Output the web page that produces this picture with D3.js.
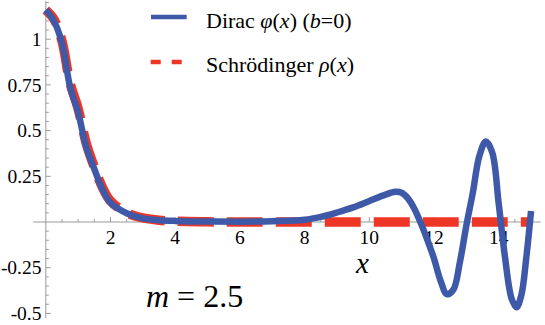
<!DOCTYPE html>
<html>
<head>
<meta charset="utf-8">
<script src="https://cdn.jsdelivr.net/npm/d3@7"></script>
</head>
<body style="margin:0">
<svg id="chart" width="545" height="325"></svg>
<script>
// ---- data ----
const xDirac = [0, 0.25, 0.5, 0.75, 1, 1.25, 1.5, 1.75, 2, 2.5, 3, 3.5, 4, 5, 6, 7, 8, 8.5, 9, 9.5, 10, 10.5, 10.8, 11.0, 11.2, 11.4, 11.6, 11.8, 12.0, 12.2, 12.4, 12.6, 12.8, 13.0, 13.2, 13.4, 13.6, 13.8, 14.0, 14.2, 14.4, 14.55, 14.7, 14.85, 15.0];
const phiDirac = [1.16, 1.10, 0.98, 0.74, 0.60, 0.41, 0.29, 0.18, 0.105, 0.048, 0.02, 0.01, 0.006, 0.003, 0.002, 0.004, 0.012, 0.028, 0.052, 0.08, 0.115, 0.15, 0.165, 0.16, 0.128, 0.07, -0.01, -0.1, -0.2, -0.32, -0.395, -0.37, -0.22, -0.02, 0.16, 0.36, 0.44, 0.38, 0.1, -0.2, -0.42, -0.467, -0.4, -0.2, 0.06];
const xSchr = [0, 0.25, 0.5, 0.75, 1, 1.25, 1.5, 1.75, 2, 2.5, 3, 3.5, 4, 5, 6, 8, 10, 12, 14, 15];
const rhoSchr = [1.16, 1.11, 0.99, 0.76, 0.62, 0.43, 0.30, 0.19, 0.115, 0.05, 0.022, 0.01, 0.004, 0.001, 0, 0, 0, 0, 0, 0];
const xTicks = [2, 4, 6, 8, 10, 12, 14];
const yTicks = [-0.5, -0.25, 0.25, 0.5, 0.75, 1];
const yTickLabels = ["-0.5", "-0.25", "0.25", "0.5", "0.75", "1"];
const xMinorTicks = d3.range(0.5, 15.01, 0.5);
const yMinorTicks = d3.range(-0.5, 1.201, 0.05).map(v => Math.round(v * 100) / 100);

const blue = "#3f59a9";
const red = "#ee3626";
const axisColor = "#9a9a9a";

const svg = d3.select("#chart");
const x = d3.scaleLinear().domain([0, 15]).range([45.8, 45.8 + 15 * 32.35]);
const y = d3.scaleLinear().domain([-0.5, 1]).range([313.4, 39.2]);

function txt(sel, size) {
  return sel.append("text").style("font-family", "\"Liberation Serif\"").style("font-size", size);
}

// ---- axes ----
const ax = svg.append("g");
ax.append("line").attr("x1", x(-0.39)).attr("x2", x(15.3)).attr("y1", y(0)).attr("y2", y(0))
  .attr("stroke", axisColor).attr("stroke-width", 1);
ax.append("line").attr("x1", x(0)).attr("x2", x(0)).attr("y1", y(1.21)).attr("y2", y(-0.525))
  .attr("stroke", axisColor).attr("stroke-width", 1);
xMinorTicks.forEach(t => {
  const major = xTicks.some(v => Math.abs(v - t) < 1e-6);
  ax.append("line").attr("x1", x(t)).attr("x2", x(t))
    .attr("y1", y(0)).attr("y2", y(0) - (major ? 5 : 3))
    .attr("stroke", axisColor).attr("stroke-width", 1);
});
yMinorTicks.forEach(t => {
  if (Math.abs(t) < 1e-6) return;
  const major = Math.abs(t / 0.25 - Math.round(t / 0.25)) < 1e-6;
  ax.append("line").attr("x1", x(0)).attr("x2", x(0) + (major ? 5 : 3))
    .attr("y1", y(t)).attr("y2", y(t))
    .attr("stroke", axisColor).attr("stroke-width", 1);
});
xTicks.forEach(t => {
  txt(ax, "19.5px").attr("x", x(t)).attr("y", 243.5).attr("text-anchor", "middle").text(String(t));
});
yTicks.forEach((t, i) => {
  txt(ax, "19.5px").attr("x", 41.5).attr("y", y(t) + 6.6).attr("text-anchor", "end").text(yTickLabels[i]);
});

// ---- curves ----
const line = d3.line().x(d => x(d[0])).y(d => y(d[1])).curve(d3.curveCatmullRom.alpha(0.5));
svg.append("path").datum(xSchr.map((v, i) => [v, rhoSchr[i]]))
  .attr("d", line).attr("fill", "none").attr("stroke", red).attr("stroke-width", 9.5)
  .attr("stroke-dasharray", "36,13").attr("stroke-dashoffset", 18);
svg.append("path").datum(xDirac.map((v, i) => [v, phiDirac[i]]))
  .attr("d", line).attr("fill", "none").attr("stroke", blue).attr("stroke-width", 6.5)
  .attr("stroke-linejoin", "round");

// ---- legend ----
const lg = svg.append("g");
lg.append("line").attr("x1", 151).attr("x2", 186.7).attr("y1", 17).attr("y2", 17)
  .attr("stroke", blue).attr("stroke-width", 4.5);
lg.append("line").attr("x1", 150.7).attr("x2", 182).attr("y1", 62).attr("y2", 62)
  .attr("stroke", red).attr("stroke-width", 4.5).attr("stroke-dasharray", "10,11");
const t1 = txt(lg, "22px").attr("x", 206).attr("y", 28);
t1.append("tspan").text("Dirac ");
t1.append("tspan").style("font-style", "italic").text("φ");
t1.append("tspan").text("(");
t1.append("tspan").style("font-style", "italic").text("x");
t1.append("tspan").text(") (");
t1.append("tspan").style("font-style", "italic").text("b");
t1.append("tspan").text("=0)");
const t2 = txt(lg, "22px").attr("x", 206).attr("y", 72);
t2.append("tspan").text("Schrödinger ");
t2.append("tspan").style("font-style", "italic").text("ρ");
t2.append("tspan").text("(");
t2.append("tspan").style("font-style", "italic").text("x");
t2.append("tspan").text(")");

// ---- axis label and annotation ----
txt(svg, "29px").attr("x", 362.5).attr("y", 273).attr("text-anchor", "middle")
  .style("font-style", "italic").text("x");
const ann = txt(svg, "32px").attr("x", 146).attr("y", 306.5);
ann.append("tspan").style("font-style", "italic").text("m");
ann.append("tspan").text(" = 2.5");
</script>
</body>
</html>
